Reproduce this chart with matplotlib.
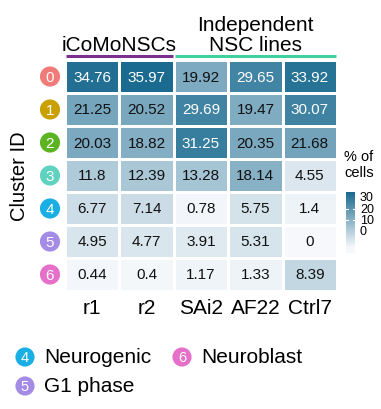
import numpy as np
import matplotlib
matplotlib.use("Agg")
import matplotlib.pyplot as plt
from matplotlib.colors import LinearSegmentedColormap, Normalize

plt.rcParams['font.family'] = ['Liberation Sans', 'DejaVu Sans']

samples = ["r1", "r2", "SAi2", "AF22", "Ctrl7"]
clusters = ["0", "1", "2", "3", "4", "5", "6"]
cluster_colors = ["#f07b79", "#c9a000", "#5db322", "#5fd3bf", "#19aee4", "#a48be6", "#e66fc9"]
values = np.array([
    [34.76, 35.97, 19.92, 29.65, 33.92],
    [21.25, 20.52, 29.69, 19.47, 30.07],
    [20.03, 18.82, 31.25, 20.35, 21.68],
    [11.8, 12.39, 13.28, 18.14, 4.55],
    [6.77, 7.14, 0.78, 5.75, 1.4],
    [4.95, 4.77, 3.91, 5.31, 0],
    [0.44, 0.4, 1.17, 1.33, 8.39],
])
group_labels = ["iCoMoNSCs", "Independent\nNSC lines"]
group_spans = [(0, 2), (2, 5)]
group_colors = ["#7b2f8f", "#3ed19c"]
cbar_ticks = [0, 10, 20, 30]
legend_items = [("4", "Neurogenic"), ("6", "Neuroblast"), ("5", "G1 phase")]

W, H = 381, 410
fig = plt.figure(figsize=(W / 100, H / 100), dpi=100)

def fx(x):
    return x / W

def fy(y):
    return 1 - y / H

cmap = LinearSegmentedColormap.from_list("tealw", ["#f6f8fb", "#1b6b90"])
norm = Normalize(0, 36)

# heatmap
left, right, top, bottom = 65, 337, 61, 292
ax = fig.add_axes([fx(left), fy(bottom), fx(right - left), (bottom - top) / H])
ax.pcolormesh(np.arange(len(samples) + 1), np.arange(len(clusters) + 1), values,
              cmap=cmap, norm=norm, edgecolors="white", linewidth=1.0)
ax.set_xlim(0, len(samples))
ax.set_ylim(len(clusters), 0)
ax.axis("off")
for i in range(len(clusters)):
    for j in range(len(samples)):
        v = values[i, j]
        ax.text(j + 0.5, i + 0.5, f"{v:g}", ha="center", va="center",
                fontsize=11, color="white" if v > 25 else "#111111")

# overlay axes in pixel coordinates
ov = fig.add_axes([0, 0, 1, 1], facecolor="none")
ov.set_xlim(0, W)
ov.set_ylim(H, 0)
ov.axis("off")

# column labels
colw = (right - left) / len(samples)
for j, s in enumerate(samples):
    ov.text(left + colw * (j + 0.5), 309, s, ha="center", va="center", fontsize=15)

# group labels and lines
for (a, b), lab, c in zip(group_spans, group_labels, group_colors):
    x0 = left + colw * a + 1
    x1 = left + colw * b - 1
    ov.plot([x0, x1], [57, 57], color=c, lw=2.2, solid_capstyle="butt")
    ov.text((x0 + x1) / 2, 55, lab, ha="center", va="bottom", fontsize=15,
            linespacing=1.05)

# cluster badges
rowh = (bottom - top) / len(clusters)
for i, (c, col) in enumerate(zip(clusters, cluster_colors)):
    yc = top + rowh * (i + 0.5)
    ov.scatter([50], [yc], s=210, color=col, edgecolors="none")
    ov.text(50, yc + 0.5, c, ha="center", va="center", fontsize=11, color="white")

ov.text(20, 176, "Cluster ID", rotation=90, ha="center", va="center", fontsize=14.5)

# legend
leg_pos = [(25, 358), (182, 358), (25, 387)]
for (num, lab), (x, y) in zip(legend_items, leg_pos):
    col = cluster_colors[clusters.index(num)]
    ov.scatter([x], [y], s=190, color=col, edgecolors="none")
    ov.text(x, y + 0.5, num, ha="center", va="center", fontsize=10.5, color="white")
    ov.text(x + 19, y, lab, ha="left", va="center", fontsize=15)

# colorbar
ov.text(344, 165, "% of\ncells", ha="left", va="center", fontsize=10.5, linespacing=1.1)
cb_top, cb_bot = 193, 254
v_top, v_bot = 34.5, -19
cax = fig.add_axes([fx(346), fy(cb_bot), fx(9), (cb_bot - cb_top) / H])
grad = np.linspace(v_bot, v_top, 200).reshape(-1, 1)
cax.imshow(grad, aspect="auto", origin="lower", cmap=cmap, norm=Normalize(-14, 34),
           extent=[0, 1, v_bot, v_top])
cax.set_xlim(0, 1)
cax.set_ylim(v_bot, v_top)
cax.axis("off")
for t in cbar_ticks:
    if 0 < t < 30:
        cax.plot([0.0, 0.22], [t, t], color="white", lw=0.8)
        cax.plot([0.78, 1.0], [t, t], color="white", lw=0.8)
    ypx = cb_top + (v_top - t) / (v_top - v_bot) * (cb_bot - cb_top)
    ov.text(360, ypx, str(t), ha="left", va="center", fontsize=9)

fig.savefig("out.png", dpi=100)
